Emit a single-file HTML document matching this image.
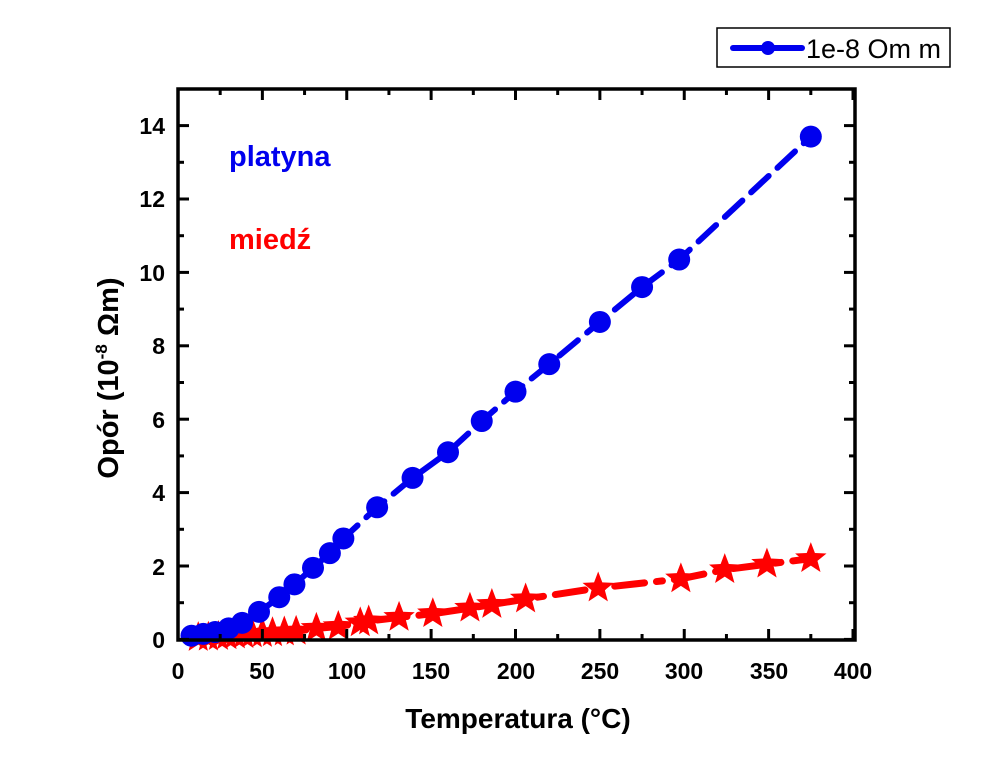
<!DOCTYPE html>
<html><head><meta charset="utf-8"><style>
body{margin:0;background:#fff;}
svg text{font-family:"Liberation Sans",Arial,sans-serif;}
</style></head><body>
<svg id="s" width="994" height="768" viewBox="0 0 994 768" xmlns="http://www.w3.org/2000/svg">
<rect width="994" height="768" fill="#fff"/>
<g id="plot"></g>
<rect x="178" y="89" width="677" height="551" fill="none" stroke="#000" stroke-width="3.5"/>
<g id="ticks" stroke="#000" stroke-width="3"></g>
<g font-weight="bold" font-size="23" text-anchor="middle" fill="#000">
<text x="178" y="679">0</text><text x="262" y="679">50</text><text x="347" y="679">100</text><text x="431" y="679">150</text><text x="516" y="679">200</text><text x="600" y="679">250</text><text x="684" y="679">300</text><text x="769" y="679">350</text><text x="853" y="679">400</text>
</g>
<g font-weight="bold" font-size="23" text-anchor="end" fill="#000">
<text x="165" y="648">0</text><text x="165" y="575">2</text><text x="165" y="501">4</text><text x="165" y="428">6</text><text x="165" y="354">8</text><text x="165" y="281">10</text><text x="165" y="207">12</text><text x="165" y="134">14</text>
</g>
<text x="518" y="728" font-size="28" font-weight="bold" text-anchor="middle">Temperatura (°C)</text>
<text transform="translate(118,378) rotate(-90)" font-size="29" font-weight="bold" text-anchor="middle">Opór (10<tspan dy="-11" font-size="17">-8</tspan><tspan dy="11"> Ωm)</tspan></text>
<text x="229" y="166" font-size="29" font-weight="bold" fill="#0000ee">platyna</text>
<text x="229" y="249" font-size="29" font-weight="bold" fill="#ff0000">miedź</text>
<rect x="717" y="28" width="233" height="39" fill="#fff" stroke="#000" stroke-width="1.5"/>
<line x1="733" y1="48" x2="802" y2="48" stroke="#0000ee" stroke-width="6" stroke-linecap="round"/>
<circle cx="768" cy="48" r="7" fill="#0000ee"/>
<text x="806" y="58" font-size="27">1e-8 Om m</text>
</svg>
<script>
var X=v=>178+v*1.6875, Y=v=>639.4-v*36.7, NS="http://www.w3.org/2000/svg";
var g=document.getElementById('plot'), t=document.getElementById('ticks');
function el(n,a,p){var e=document.createElementNS(NS,n);for(var k in a)e.setAttribute(k,a[k]);(p||g).appendChild(e);return e;}
for(var v=0;v<=400;v+=25){var x=X(v),L=v%50?5:10;el('line',{x1:x,y1:639,x2:x,y2:639-L},t);el('line',{x1:x,y1:90,x2:x,y2:90+L},t);}
for(var v=0;v<=15;v+=1){var y=Y(v);if(y<90)continue;var L=v%2?5:10;el('line',{x1:179,y1:y,x2:179+L,y2:y},t);el('line',{x1:854,y1:y,x2:854-L,y2:y},t);}
var B=[[8,0.1],[15,0.15],[22,0.2],[30,0.3],[38,0.45],[48,0.75],[60,1.15],[69,1.5],[80,1.95],[90,2.35],[98,2.75],[118,3.6],[139,4.4],[160,5.1],[180,5.95],[200,6.75],[220,7.5],[250,8.65],[275,9.6],[297,10.35],[375,13.7]];
var R=[[12,0.05],[18,0.06],[24,0.08],[29,0.1],[34,0.12],[39,0.13],[44,0.15],[50,0.16],[56,0.18],[63,0.2],[70,0.22],[82,0.3],[95,0.35],[108,0.45],[113,0.5],[131,0.6],[151,0.7],[173,0.85],[186,0.95],[206,1.1],[249,1.4],[298,1.65],[324,1.9],[349,2.05],[375,2.2]];
function pts(a){return a.map(p=>X(p[0])+','+Y(p[1])).join(' ');}
el('polyline',{points:pts(R),fill:'none',stroke:'#ff0000','stroke-width':7,'stroke-dasharray':'30 12 6 12','stroke-linecap':'round'});
R.forEach(function(p){var cx=X(p[0]),cy=Y(p[1]),s='';for(var i=0;i<10;i++){var r=i%2?7:16.5,a=-Math.PI/2+i*Math.PI/5;s+=(cx+r*Math.cos(a))+','+(cy+r*Math.sin(a))+' ';}el('polygon',{points:s,fill:'#ff0000'});});
el('polyline',{points:pts(B),fill:'none',stroke:'#0000ee','stroke-width':6,'stroke-dasharray':'24 12','stroke-linecap':'round'});
B.forEach(function(p){el('circle',{cx:X(p[0]),cy:Y(p[1]),r:11,fill:'#0000ee'});});
</script>
</body></html>
